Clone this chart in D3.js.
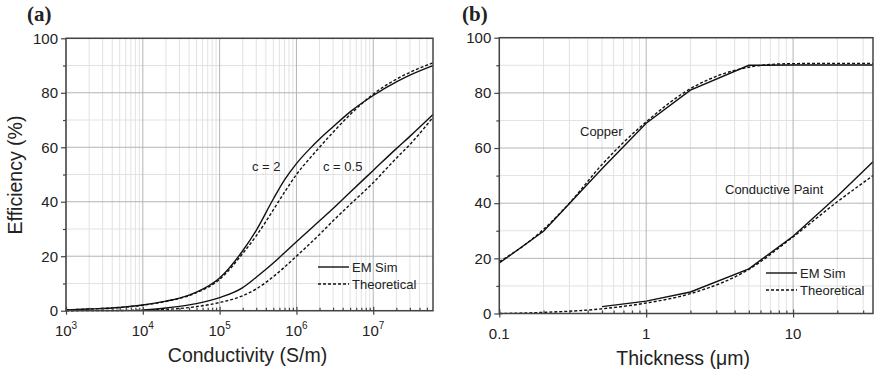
<!DOCTYPE html>
<html>
<head>
<meta charset="utf-8">
<script src="https://cdn.jsdelivr.net/npm/d3@7"></script>
<style>
body { margin: 0; background: #fff; }
svg text { font-family: "Liberation Sans", Arial, sans-serif; fill: #222; }
</style>
</head>
<body>
<svg id="svg" width="874" height="375"></svg>
<script>
// ticks
var effTicks = [0, 20, 40, 60, 80, 100];
var effMinor = [10, 30, 50, 70, 90];
var condTicks = [1e3, 1e4, 1e5, 1e6, 1e7];
var condExp = ['3', '4', '5', '6', '7'];
var thickTicks = [0.1, 1, 10];
var thickLabels = ['0.1', '1', '10'];

// panel (a): efficiency vs conductivity
var c2X = [1e3, 2e3, 5e3, 1e4, 2e4, 3e4, 5e4, 1e5, 2e5, 3e5, 5e5, 7e5, 1e6, 1.5e6, 2e6, 3e6, 5e6, 1e7, 2e7, 3e7, 6e7];
var c2Sim = [0.3, 0.6, 1.2, 2.1, 3.5, 4.6, 6.8, 12, 22, 29.5, 41, 48, 54, 59.5, 63, 67.5, 73, 79, 84, 86.5, 90];
var c2Theo = [0.3, 0.6, 1.2, 2.0, 3.4, 4.5, 6.6, 11.5, 21, 27.5, 37, 43.5, 50, 56, 60, 65.5, 72, 79.5, 85, 87.5, 91];
var c05X = [1e4, 2e4, 3e4, 5e4, 1e5, 2e5, 3e5, 5e5, 7e5, 1e6, 2e6, 3e6, 5e6, 1e7, 2e7, 3e7, 6e7];
var c05Sim = [0.3, 1, 1.6, 2.6, 4.8, 8.5, 12.3, 17.5, 21.3, 25.3, 33, 37.5, 43.5, 51.5, 59.5, 64, 72];
var c05TheoX = [1e3, 3e3, 1e4, 2e4, 3e4, 5e4, 1e5, 2e5, 3e5, 5e5, 7e5, 1e6, 2e6, 3e6, 5e6, 1e7, 2e7, 3e7, 6e7];
var c05Theo = [0, 0.05, 0.2, 0.5, 0.8, 1.5, 3, 5.5, 8, 12.5, 16, 20, 28, 33, 39, 47, 56, 61, 71];

// panel (b): efficiency vs thickness
var cuX = [0.1, 0.2, 0.5, 1, 2, 5, 10, 35];
var cuSim = [18.3, 29.8, 52.5, 69, 81, 90, 90.1, 90.1];
var cuTheoX = [0.1, 0.15, 0.2, 0.3, 0.5, 0.7, 1, 2, 3, 5, 7, 10, 20, 35];
var cuTheo = [18.8, 25, 30.5, 40, 54, 62, 69.5, 81.5, 86, 89.3, 90.3, 90.6, 90.7, 90.7];
var paintX = [0.5, 1, 2, 5, 10, 20, 35];
var paintSim = [2.5, 4.5, 7.8, 16.2, 28, 42.5, 55];
var paintTheoX = [0.1, 0.2, 0.5, 1, 2, 5, 10, 20, 35];
var paintTheo = [0, 0.4, 1.7, 3.8, 7.2, 16, 27.8, 40.5, 50];

var svg = d3.select('#svg');

function zip(xs, ys) {
  var out = [];
  for (var i = 0; i < xs.length; i++) out.push([xs[i], ys[i]]);
  return out;
}

function drawPanel(x, y, p) {
  var g = svg.append('g');
  var x0 = x.range()[0], x1 = x.range()[1];
  var y0 = y.range()[0], y1 = y.range()[1];
  var majors = p.xTicks;
  var minors = x.ticks().filter(function(d) {
    return majors.indexOf(d) < 0 && d > x.domain()[0] && d < x.domain()[1];
  });

  // grid
  g.selectAll('.vminor').data(minors).enter().append('line')
    .attr('x1', function(d) { return x(d); }).attr('x2', function(d) { return x(d); })
    .attr('y1', y0).attr('y2', y1)
    .attr('stroke', '#e2e2e2').attr('stroke-width', 1);
  g.selectAll('.hminor').data(effMinor).enter().append('line')
    .attr('x1', x0).attr('x2', x1)
    .attr('y1', function(d) { return y(d); }).attr('y2', function(d) { return y(d); })
    .attr('stroke', '#e2e2e2').attr('stroke-width', 1);
  g.selectAll('.vmajor').data(majors).enter().append('line')
    .attr('x1', function(d) { return x(d); }).attr('x2', function(d) { return x(d); })
    .attr('y1', y0).attr('y2', y1)
    .attr('stroke', '#b4b4b4').attr('stroke-width', 1);
  g.selectAll('.hmajor').data(effTicks).enter().append('line')
    .attr('x1', x0).attr('x2', x1)
    .attr('y1', function(d) { return y(d); }).attr('y2', function(d) { return y(d); })
    .attr('stroke', '#b4b4b4').attr('stroke-width', 1);

  // curves
  var line = d3.line()
    .x(function(d) { return x(d[0]); })
    .y(function(d) { return y(d[1]); });
  p.series.forEach(function(s) {
    g.append('path')
      .datum(s.data)
      .attr('d', line.curve(s.curve || d3.curveMonotoneX))
      .attr('fill', 'none')
      .attr('stroke', '#111')
      .attr('stroke-width', 1.4)
      .attr('stroke-dasharray', s.dash ? '3,2' : null);
  });

  // frame
  g.append('rect')
    .attr('x', x0).attr('y', y1)
    .attr('width', x1 - x0).attr('height', y0 - y1)
    .attr('fill', 'none').attr('stroke', '#444').attr('stroke-width', 1.5);

  // y ticks
  var ya = g.append('g').attr('transform', 'translate(' + x0 + ',0)')
    .call(d3.axisLeft(y).tickValues(effTicks).tickSize(5).tickPadding(3).tickFormat(d3.format('d')));
  g.append('g').attr('transform', 'translate(' + x0 + ',0)')
    .call(d3.axisLeft(y).tickValues(effMinor).tickSize(3).tickFormat(''));
  ya.selectAll('text').attr('font-size', 15).style('font-family', '"Liberation Sans", Arial, sans-serif');

  // x ticks
  g.append('g').attr('transform', 'translate(0,' + y0 + ')')
    .call(d3.axisBottom(x).tickValues(majors).tickSize(4).tickFormat(''));
  g.append('g').attr('transform', 'translate(0,' + y0 + ')')
    .call(d3.axisBottom(x).tickValues(majors).tickSize(-4).tickFormat(''));
  g.append('g').attr('transform', 'translate(0,' + y0 + ')')
    .call(d3.axisBottom(x).tickValues(minors).tickSize(-3).tickFormat(''));
  g.selectAll('.domain').remove();
  g.selectAll('.tick line').attr('stroke', '#444').attr('stroke-width', 1.2);

  // x tick labels
  var lab = g.selectAll('.xlab').data(majors).enter().append('text')
    .attr('x', function(d) { return x(d); })
    .attr('y', y0 + 25)
    .attr('text-anchor', 'middle')
    .attr('font-size', 15);
  if (p.exps) {
    lab.append('tspan').text('10');
    lab.append('tspan').attr('font-size', 10).attr('dy', -7)
      .text(function(d, i) { return p.exps[i]; });
  } else {
    lab.text(function(d, i) { return p.xLabels[i]; });
  }

  // titles
  svg.append('text').attr('x', (x0 + x1) / 2 + p.titleDx).attr('y', y0 + 51)
    .attr('text-anchor', 'middle').attr('font-size', 19.5).text(p.xTitle);
  svg.append('text').attr('x', p.tagX).attr('y', 21)
    .attr('font-size', 21).attr('font-weight', 'bold')
    .style('font-family', '"Liberation Serif", "Times New Roman", serif')
    .text(p.tag);

  // legend
  var lg = svg.append('g');
  [['EM Sim', false], ['Theoretical', true]].forEach(function(e, i) {
    var ly = p.legY + i * 17;
    lg.append('line').attr('x1', p.legX).attr('x2', p.legX + 31)
      .attr('y1', ly).attr('y2', ly)
      .attr('stroke', '#111').attr('stroke-width', 1.4)
      .attr('stroke-dasharray', e[1] ? '3,2' : null);
    lg.append('text').attr('x', p.legX + 34).attr('y', ly + 4.5)
      .attr('font-size', 13).text(e[0]);
  });

  p.notes.forEach(function(n) {
    svg.append('text').attr('x', n[1]).attr('y', n[2])
      .attr('font-size', 13).text(n[0]);
  });
}

var xa = d3.scaleLog().domain([1e3, 6e7]).range([66, 433]);
var ya = d3.scaleLinear().domain([0, 100]).range([310.7, 38.3]);
var xb = d3.scaleLog().domain([0.1, 35]).range([499.3, 873]);
var yb = d3.scaleLinear().domain([0, 100]).range([313.5, 37.7]);

drawPanel(xa, ya, {
  xTicks: condTicks, exps: condExp,
  xTitle: 'Conductivity (S/m)', titleDx: -2, tag: '(a)', tagX: 27,
  legX: 318, legY: 267,
  notes: [['c = 2', 252, 171], ['c = 0.5', 323, 171]],
  series: [
    { data: zip(c2X, c2Sim) },
    { data: zip(c2X, c2Theo), dash: true },
    { data: zip(c05X, c05Sim) },
    { data: zip(c05TheoX, c05Theo), dash: true }
  ]
});

drawPanel(xb, yb, {
  xTicks: thickTicks, xLabels: thickLabels,
  xTitle: 'Thickness (\u03bcm)', titleDx: -3, tag: '(b)', tagX: 462,
  legX: 766, legY: 273,
  notes: [['Copper', 580, 136], ['Conductive Paint', 725, 194]],
  series: [
    { data: zip(cuX, cuSim), curve: d3.curveLinear },
    { data: zip(cuTheoX, cuTheo), dash: true },
    { data: zip(paintX, paintSim), curve: d3.curveLinear },
    { data: zip(paintTheoX, paintTheo), dash: true }
  ]
});

// y title, only on panel (a)
svg.append('text')
  .attr('transform', 'translate(22,175) rotate(-90)')
  .attr('text-anchor', 'middle')
  .attr('font-size', 19.5)
  .text('Efficiency (%)');
</script>
</body>
</html>
